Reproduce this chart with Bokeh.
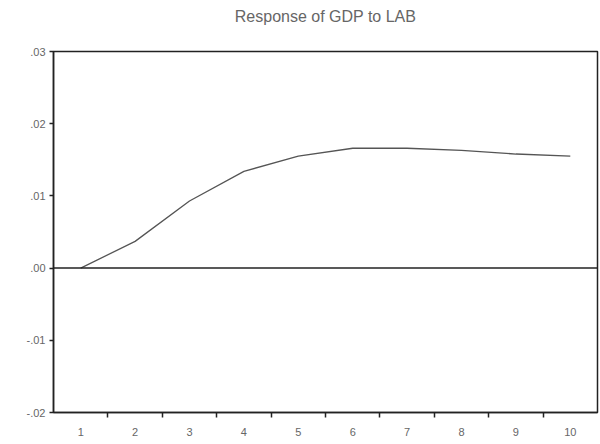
from bokeh.plotting import figure
from bokeh.models import FixedTicker, Span, Range1d, CustomJSTickFormatter, Title
from bokeh.embed import file_html
from bokeh.resources import INLINE

periods = [1, 2, 3, 4, 5, 6, 7, 8, 9, 10]
response = [0.0, 0.0037, 0.0093, 0.0134, 0.0155, 0.0166, 0.0166, 0.0163, 0.0158, 0.0155]
y_ticks = [-0.02, -0.01, 0.0, 0.01, 0.02, 0.03]
y_labels = {"-0.02": "-.02", "-0.01": "-.01", "0": ".00", "0.01": ".01", "0.02": ".02", "0.03": ".03"}
x_between = [1.5, 2.5, 3.5, 4.5, 5.5, 6.5, 7.5, 8.5, 9.5]

p = figure(width=600, height=444, output_backend="svg", toolbar_location=None,
           x_range=Range1d(0.5, 10.5), y_range=Range1d(-0.02, 0.03),
           title="Response of GDP to LAB")
p.min_border_left = 53
p.min_border_right = 3
p.min_border_top = 51
p.min_border_bottom = 32

p.title.align = "center"
p.title.text_font = "Liberation Sans"
p.title.text_font_size = "16px"
p.title.text_font_style = "normal"
p.title.text_color = "#666666"
p.title.offset = 0

spacer = Title(text=" ", text_font_size="9px")
p.add_layout(spacer, "above")

p.xgrid.visible = False
p.ygrid.visible = False
p.background_fill_color = "white"
p.border_fill_color = "white"
p.outline_line_color = "#222222"
p.outline_line_width = 1.5
p.outline_line_alpha = 1.0

p.xaxis.ticker = FixedTicker(ticks=periods, minor_ticks=x_between)
p.xaxis.major_tick_out = 0
p.xaxis.major_tick_in = 0
p.xaxis.minor_tick_out = 5
p.xaxis.minor_tick_in = 0
p.xaxis.minor_tick_line_color = "#222222"
p.xaxis.minor_tick_line_width = 1.5
p.xaxis.major_label_standoff = 10

p.yaxis.ticker = FixedTicker(ticks=y_ticks)
p.yaxis.major_tick_out = 4
p.yaxis.major_tick_in = 0
p.yaxis.minor_tick_out = 0
p.yaxis.minor_tick_in = 0
p.yaxis.major_tick_line_color = "#222222"
p.yaxis.major_tick_line_width = 1.5
p.yaxis.major_label_standoff = 4
p.yaxis.formatter = CustomJSTickFormatter(args=dict(lab=y_labels), code="""
    const v = Math.round(tick * 100) / 100;
    const k = String(v);
    return (k in lab) ? lab[k] : k;
""")

for ax in (p.xaxis, p.yaxis):
    ax.axis_line_color = "#222222"
    ax.axis_line_width = 1.5
    ax.major_label_text_font = "Liberation Sans"
    ax.major_label_text_font_size = "11px"
    ax.major_label_text_color = "#666666"

p.add_layout(Span(location=0, dimension="width", line_color="#222222", line_width=1.5))
p.line(periods, response, line_color="#555555", line_width=1.3)

open("out.html", "w").write(file_html(p, INLINE))
